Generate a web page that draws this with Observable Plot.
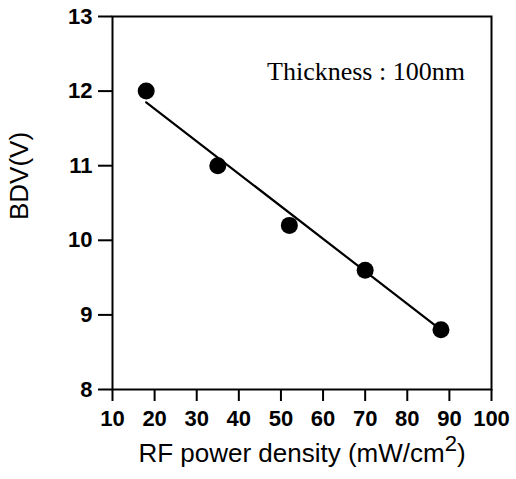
<!DOCTYPE html>
<html><head><meta charset="utf-8">
<script src="https://cdn.jsdelivr.net/npm/d3@7"></script>
<script src="https://cdn.jsdelivr.net/npm/@observablehq/plot@0.6"></script>
<style>html,body{margin:0;padding:0;background:#fff} svg{display:block}</style>
</head><body><div id="chart"></div>
<script>
// Data
const powerDensity = [18, 35, 52, 70, 88];      // mW/cm^2
const bdv = [12.0, 11.0, 10.2, 9.6, 8.8];        // V
const fitX = [18, 88];                            // fitted line end points
const fitY = [11.85, 8.8];
const xTicks = [10, 20, 30, 40, 50, 60, 70, 80, 90, 100];
const yTicks = [8, 9, 10, 11, 12, 13];
const xLabel = "RF power density (mW/cm2)";
const yLabel = "BDV(V)";
const annotation = "Thickness : 100nm";

const points = powerDensity.map((x, i) => ({x, y: bdv[i]}));
const fit = fitX.map((x, i) => ({x, y: fitY[i]}));

const sans = "'Liberation Sans', Arial, Helvetica, sans-serif";
const serif = "'Liberation Serif', 'Times New Roman', serif";

const chart = Plot.plot({
  width: 516,
  height: 479,
  marginLeft: 112,
  marginRight: 25,
  marginTop: 16,
  marginBottom: 90,
  style: {fontFamily: sans, color: "#000", background: "#fff", overflow: "visible"},
  x: {domain: [10, 100]},
  y: {domain: [8, 13]},
  marks: [
    Plot.axisX({ticks: xTicks, tickFormat: "d", tickSize: 12, tickPadding: 9, fontSize: 22, fontWeight: "bold", label: null, strokeWidth: 2}),
    Plot.axisY({ticks: yTicks, tickFormat: "d", tickSize: 14, tickPadding: 6, fontSize: 22, fontWeight: "bold", label: null, strokeWidth: 2}),
    Plot.frame({stroke: "#000", strokeWidth: 2}),
    Plot.line(fit, {x: "x", y: "y", stroke: "#000", strokeWidth: 2.2}),
    Plot.dot(points, {x: "x", y: "y", r: 8.5, fill: "#000", stroke: "none"}),
    Plot.text([annotation], {frameAnchor: "top", dx: 64, dy: 45, textAnchor: "middle", fontSize: 26, fontFamily: serif, fill: "#000"}),
    Plot.text([xLabel], {frameAnchor: "bottom", dy: 72, textAnchor: "middle", fontSize: 26, fill: "#000"}),
    Plot.text([yLabel], {frameAnchor: "left", dx: -93, dy: -27, rotate: -90, textAnchor: "middle", fontSize: 26, fill: "#000"})
  ]
});

// Superscript the "2" in the x-axis label
d3.select(chart).selectAll("text").filter(function () { return this.textContent === xLabel; })
  .each(function () {
    const t = d3.select(this);
    t.text(null);
    t.append("tspan").text("RF power density (mW/cm");
    t.append("tspan").attr("dy", -11).attr("font-size", "0.85em").text("2");
    t.append("tspan").attr("dy", 11).text(")");
  });

document.getElementById("chart").appendChild(chart);
</script>
</body></html>
